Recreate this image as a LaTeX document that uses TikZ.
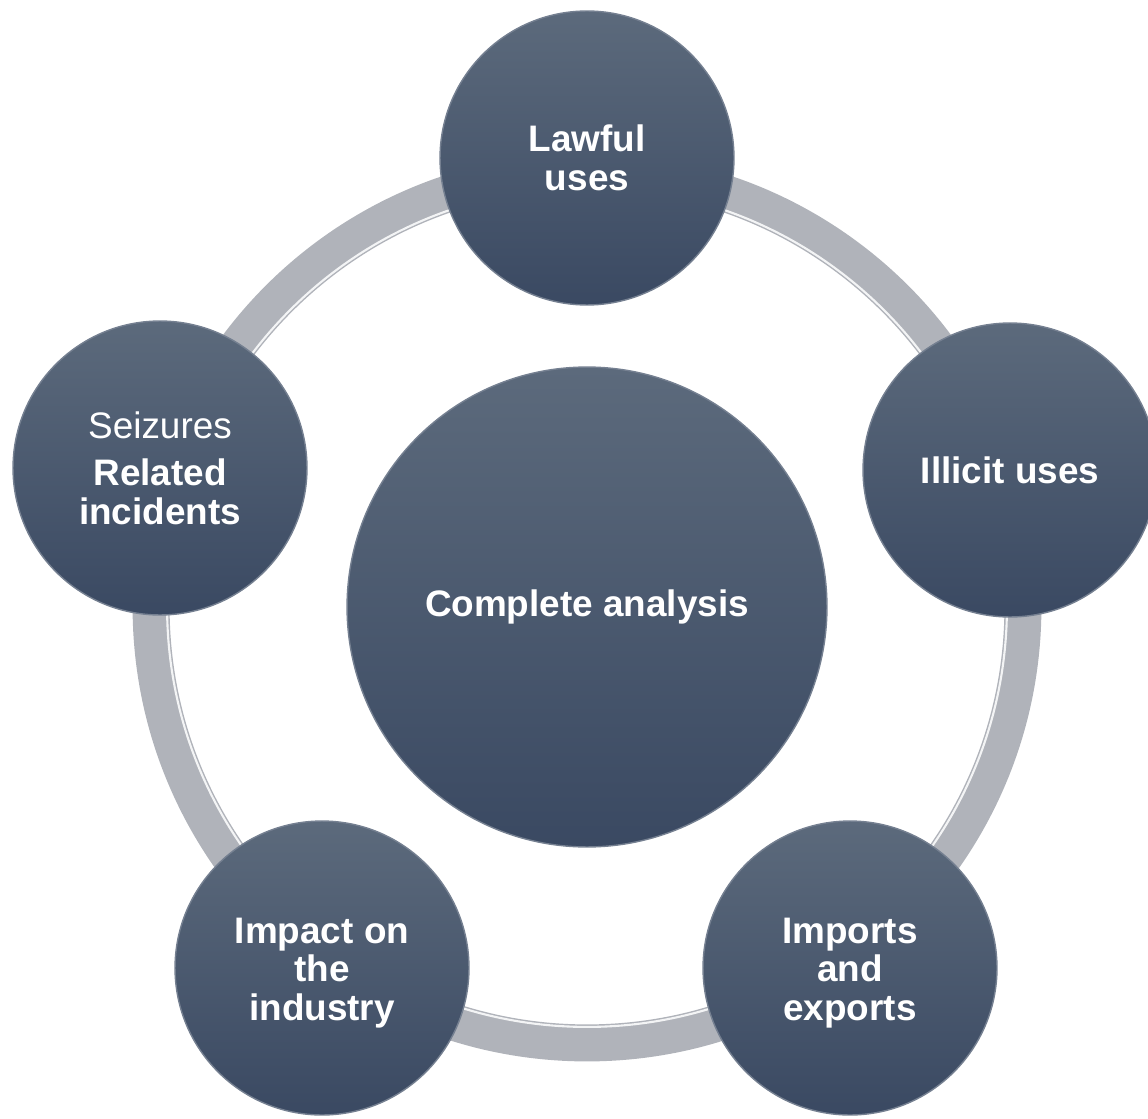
\documentclass[tikz,border=0pt]{standalone}
\usepackage{fontspec}
\setmainfont{Liberation Sans}
\usetikzlibrary{calc}
\definecolor{ballTop}{RGB}{92,106,124}
\definecolor{ballBot}{RGB}{58,73,98}
\definecolor{ringGrey}{RGB}{176,179,186}
\tikzset{
  ball/.style   = {circle,top color=ballTop,bottom color=ballBot,draw=ballBot!70!white,line width=0.8pt,text=white,align=center,inner sep=0pt,font=\fontsize{21}{22}\selectfont\bfseries},
  topic/.style  = {ball,minimum size=5.88cm},
  hub/.style    = {ball,minimum size=9.6cm},
  ring/.style   = {draw=ringGrey,line width=0.74cm},
  gleam/.style  = {draw=white!85!ringGrey,line width=1.2pt},
}
\begin{document}
\begin{tikzpicture}[x=0.02cm,y=-0.02cm]
\useasboundingbox (0,0) rectangle (1148,1118);
\coordinate (mid) at (587,607);
% grey ring behind the topics
\draw[ring] (mid) circle[radius=8.72cm];
\draw[gleam] (mid) circle[radius=8.40cm];
\node[hub]   (core)      at (mid)       {Complete analysis};
\node[topic] (lawful)    at (587,158)   {Lawful\\uses};
\node[topic] (illicit)   at (1010,470)  {Illicit uses};
\node[topic] (trade)     at (850,968)   {\\[-2pt]Imports\\and\\exports};
\node[topic] (industry)  at (322,968)   {\\[-2pt]Impact on\\the\\industry};
\node[topic] (seizures)  at (160,468)   {{\mdseries Seizures}\\[5pt]Related\\incidents};
\end{tikzpicture}
\end{document}
